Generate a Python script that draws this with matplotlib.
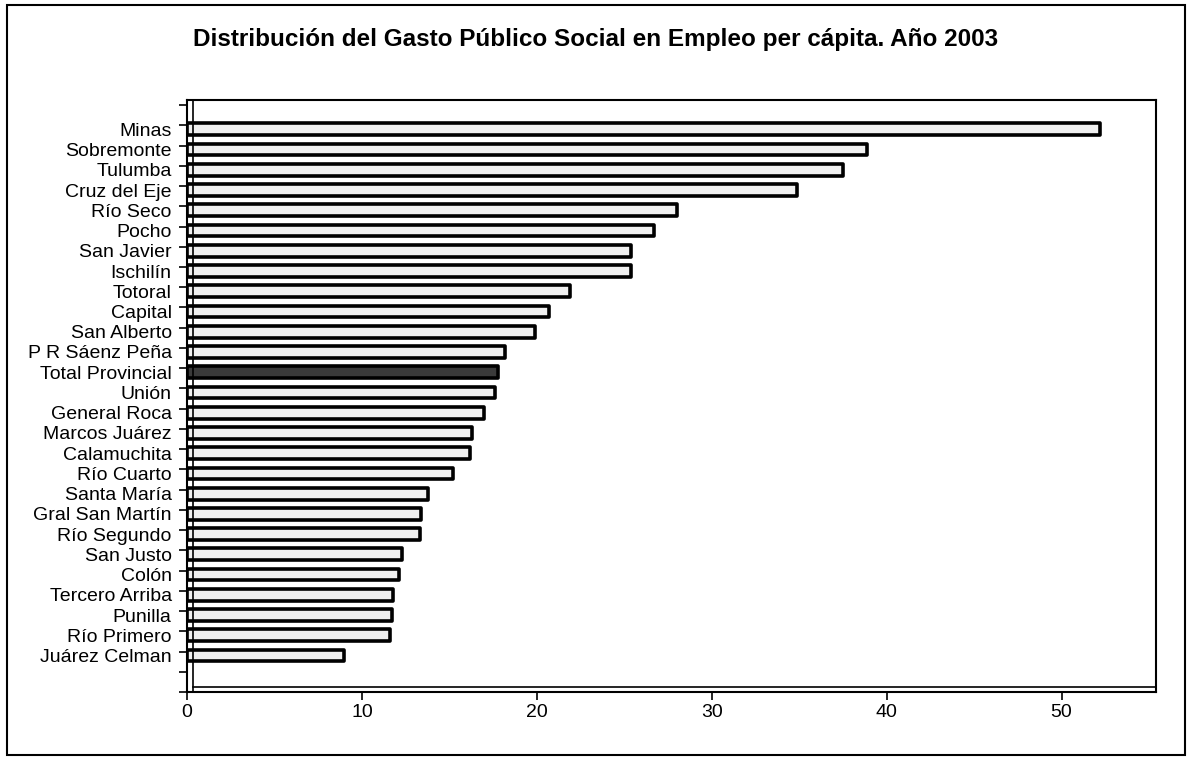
import matplotlib
matplotlib.use("Agg")
import matplotlib.pyplot as plt
from matplotlib.patches import Rectangle

plt.rcParams['font.family'] = ['Liberation Sans', 'DejaVu Sans']

departamentos = ['Minas', 'Sobremonte', 'Tulumba', 'Cruz del Eje', 'Río Seco',
                 'Pocho', 'San Javier', 'Ischilín', 'Totoral', 'Capital',
                 'San Alberto', 'P R Sáenz Peña', 'Total Provincial', 'Unión',
                 'General Roca', 'Marcos Juárez', 'Calamuchita', 'Río Cuarto',
                 'Santa María', 'Gral San Martín', 'Río Segundo', 'San Justo',
                 'Colón', 'Tercero Arriba', 'Punilla', 'Río Primero',
                 'Juárez Celman']
gasto = [52.2, 38.9, 37.5, 34.9, 28.0, 26.7, 25.4, 25.4, 21.9, 20.7,
         19.9, 18.2, 17.8, 17.6, 17.0, 16.3, 16.2, 15.2, 13.8, 13.4,
         13.3, 12.3, 12.1, 11.8, 11.7, 11.6, 9.0]
xticks = [0, 10, 20, 30, 40, 50]

titulo = 'Distribución del Gasto Público Social en Empleo per cápita. Año 2003'

fig = plt.figure(figsize=(11.92, 7.6), dpi=100)
fig.patches.append(Rectangle((0.006, 0.006), 0.988, 0.988, transform=fig.transFigure,
                             fill=False, edgecolor='black', linewidth=1.5))
fig.text(0.5, 0.948, titulo, ha='center', va='center', fontsize=17.5, fontweight='bold')

ax = fig.add_axes([0.1569, 0.0895, 0.9698 - 0.1569, 0.8684 - 0.0895])

n = len(departamentos)
pos = [n + 1 - i - 0.2 for i in range(n)]
colores = ['#3a3a3a' if d == 'Total Provincial' else '#f0f0f0' for d in departamentos]
ax.barh(pos, gasto, height=0.58, color=colores, edgecolor='black',
        linewidth=2.6, joinstyle='round', capstyle='round')

# fondo pseudo 3D
ax.axvline(0.34, color='black', linewidth=1.2)
ax.axhline(0.25, xmin=0.006, color='black', linewidth=1.2)

ax.set_xlim(0, 55.4)
ax.set_ylim(0, 29.25)
ax.set_xticks(xticks)
ax.set_yticks(pos)
ax.set_yticklabels(departamentos)
ax.set_yticks(range(0, 30), minor=True)
ax.tick_params(axis='y', which='major', length=0, pad=11, labelsize=14)
ax.tick_params(axis='y', which='minor', length=6, width=1.2, direction='out')
ax.tick_params(axis='x', length=6, width=1.2, pad=3, labelsize=14)
for s in ax.spines.values():
    s.set_linewidth(1.5)

fig.savefig('out.png', dpi=100)
